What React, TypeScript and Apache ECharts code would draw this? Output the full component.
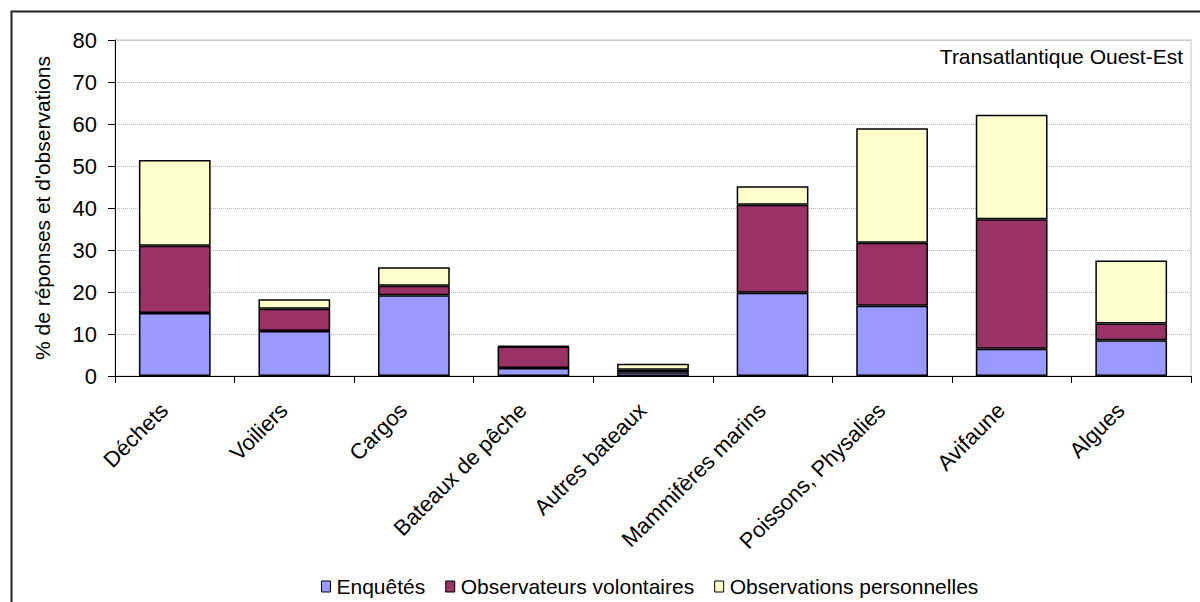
import React, { useEffect, useRef } from "react";
import * as echarts from "echarts";

const categories = [
  "Déchets",
  "Voiliers",
  "Cargos",
  "Bateaux de pêche",
  "Autres bateaux",
  "Mammifères marins",
  "Poissons, Physalies",
  "Avifaune",
  "Algues",
];

const enquetes = [15, 10.7, 19.2, 1.9, 0.9, 19.8, 16.7, 6.5, 8.5];
const observateurs = [16, 5.3, 2.3, 5.1, 0.6, 21, 15, 30.8, 4];
const observationsPerso = [20.4, 2.3, 4.4, 0.2, 1.4, 4.4, 27.3, 24.9, 15];

const seriesNames = ["Enquêtés", "Observateurs volontaires", "Observations personnelles"];
const seriesColors = ["#9999FF", "#993366", "#FFFFCC"];
const yTicks = [0, 10, 20, 30, 40, 50, 60, 70, 80];

const FONT = "Arial, 'Liberation Sans', sans-serif";

export default function App() {
  const ref = useRef<HTMLDivElement>(null);

  useEffect(() => {
    if (!ref.current) return;
    const chart = echarts.init(ref.current, null, { renderer: "svg" });
    const dataSets = [enquetes, observateurs, observationsPerso];
    chart.setOption({
      animation: false,
      backgroundColor: "#ffffff",
      textStyle: { fontFamily: FONT, color: "#000" },
      grid: {
        left: 115,
        top: 40,
        right: 9,
        bottom: 226,
        show: true,
        borderColor: "#c0c0c0",
        borderWidth: 1,
      },
      legend: {
        left: 316,
        top: 571,
        itemWidth: 9,
        itemHeight: 11,
        itemGap: 20,
        icon: "rect",
        textStyle: { fontSize: 21, fontFamily: FONT, color: "#000", padding: [0, 0, 0, 1] },
        itemStyle: { borderColor: "#000", borderWidth: 1 },
        data: seriesNames,
      },
      xAxis: {
        type: "category",
        data: categories,
        axisLine: { lineStyle: { color: "#000", width: 1 } },
        axisTick: { show: true, length: 7, lineStyle: { color: "#000" } },
        axisLabel: {
          interval: 0,
          rotate: 45,
          fontSize: 22,
          fontFamily: FONT,
          color: "#000",
          margin: 20,
          padding: [0, 15, 0, 0],
        },
      },
      yAxis: {
        type: "value",
        min: yTicks[0],
        max: yTicks[yTicks.length - 1],
        interval: 10,
        name: "% de réponses et d'observations",
        nameLocation: "middle",
        nameGap: 62,
        nameTextStyle: { fontSize: 21, fontFamily: FONT, color: "#000" },
        axisLine: { show: true, lineStyle: { color: "#000", width: 1 } },
        axisTick: { show: true, length: 7, lineStyle: { color: "#000" } },
        axisLabel: { fontSize: 22, fontFamily: FONT, color: "#000", margin: 18 },
        splitLine: { show: true, lineStyle: { color: "#b8b8b8", type: "dotted", width: 1 } },
      },
      graphic: [
        {
          type: "rect",
          left: 9,
          top: 9,
          shape: { width: 1400, height: 1000 },
          style: { fill: "none", stroke: "#222", lineWidth: 2 },
          silent: true,
          z: 100,
        },
        {
          type: "text",
          right: 17,
          top: 46,
          style: {
            text: "Transatlantique Ouest-Est",
            fontSize: 21,
            fontFamily: FONT,
            fill: "#000",
          },
        },
      ],
      series: seriesNames.map((name, i) => ({
        name,
        type: "bar",
        stack: "total",
        barWidth: "60%",
        data: dataSets[i],
        itemStyle: {
          color: seriesColors[i],
          borderColor: "#000",
          borderWidth: 1.5,
        },
      })),
    });
    return () => chart.dispose();
  }, []);

  return (
    <div
      ref={ref}
      style={{ position: "fixed", left: 0, top: 0, width: 1200, height: 602 }}
    />
  );
}
